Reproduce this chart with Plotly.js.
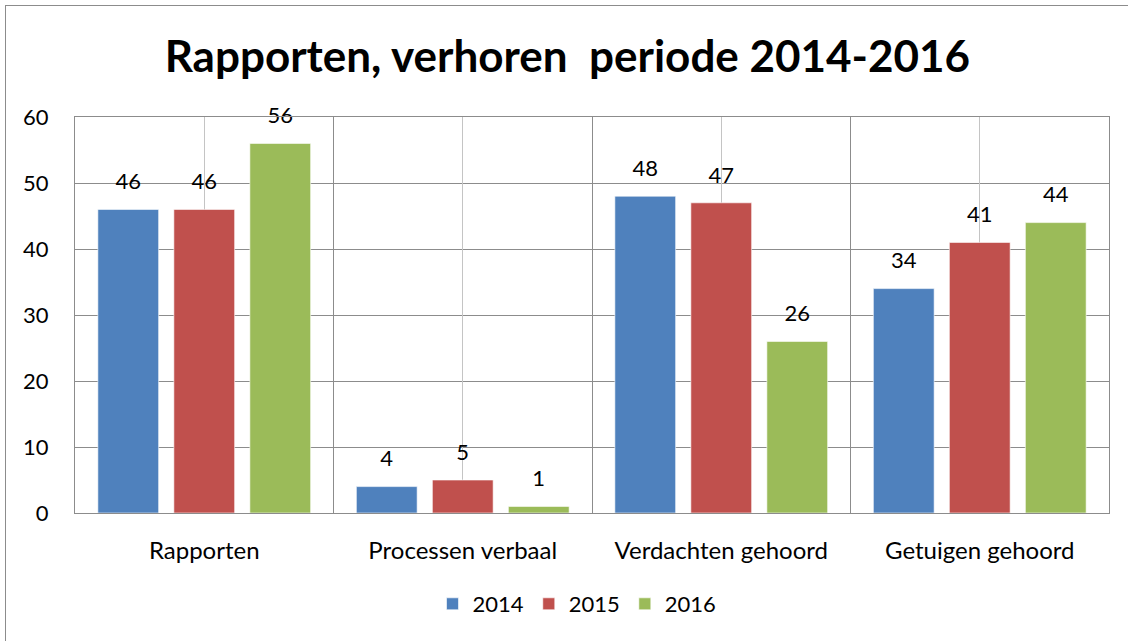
<!DOCTYPE html>
<html>
<head>
<meta charset="utf-8">
<script src="https://cdn.plot.ly/plotly-3.0.1.min.js"></script>
<style>
  html, body { margin: 0; padding: 0; background: #fff; }
  #wrap { position: relative; width: 1128px; height: 641px; }
  #chart { position: absolute; left: 0; top: 0; width: 1128px; height: 641px; }
  #frame { position: absolute; left: 5px; top: 5px; width: 1140px; height: 660px;
           border: 1px solid #8c8c8c; pointer-events: none; box-sizing: border-box; }
</style>
</head>
<body>
<div id="wrap">
  <div id="chart"></div>
  <div id="frame"></div>
</div>
<script>
const categories = ["Rapporten", "Processen verbaal", "Verdachten gehoord", "Getuigen gehoord"];
const seriesNames = ["2014", "2015", "2016"];
const values2014 = [46, 4, 48, 34];
const values2015 = [46, 5, 47, 41];
const values2016 = [56, 1, 26, 44];
const yTicks = [0, 10, 20, 30, 40, 50, 60];

const colors = ["#4F81BD", "#C0504D", "#9BBB59"];
const allValues = [values2014, values2015, values2016];
const FONT = "Lato, 'Open Sans', sans-serif";
const GAP = 0.118;

const traces = [];
allValues.forEach((vals, i) => {
  traces.push({
    type: "bar", x: categories, y: vals, name: seriesNames[i],
    marker: { color: colors[i], line: { color: "rgba(255,255,255,0.6)", width: 1 } },
    hoverinfo: "x+y+name"
  });
});
allValues.forEach((vals, i) => {
  traces.push({
    type: "scatter", mode: "markers+text", x: categories, y: vals,
    orientation: "v",
    text: vals.map(String), textposition: "top center",
    textfont: { family: FONT, size: 22, color: "#000" },
    marker: { size: 22, color: "rgba(0,0,0,0)" },
    showlegend: false, hoverinfo: "skip", cliponaxis: false
  });
});
// helper trace for center gridlines on secondary x-axis
traces.push({ type: "scatter", x: [0, 3], y: [0, 0], xaxis: "x2", mode: "none", showlegend: false, hoverinfo: "skip" });

const layout = {
  width: 1128, height: 641,
  paper_bgcolor: "rgba(0,0,0,0)", plot_bgcolor: "#fff",
  margin: { l: 75, r: 19, t: 117, b: 128 },
  font: { family: FONT, color: "#000" },
  title: {
    text: "<b>Rapporten, verhoren  periode 2014-2016</b>",
    font: { family: FONT, size: 44, color: "#000" },
    x: 0.503, xref: "container", xanchor: "center",
    y: 1 - 57 / 641, yref: "container", yanchor: "middle"
  },
  barmode: "group", bargap: GAP, bargroupgap: 0.2,
  scattermode: "group", scattergap: GAP,
  xaxis: {
    type: "category", tickson: "boundaries",
    showgrid: true, gridcolor: "#8c8c8c", gridwidth: 1,
    showline: true, linecolor: "#8c8c8c", mirror: true,
    ticks: "", tickfont: { family: FONT, size: 24, color: "#000" },
    ticklabelstandoff: 16, zeroline: false
  },
  xaxis2: {
    overlaying: "x", range: [-0.5, 3.5], tick0: 0, dtick: 1,
    showgrid: true, gridcolor: "#c4c4c4", gridwidth: 1,
    showticklabels: false, ticks: "", zeroline: false, showline: false
  },
  yaxis: {
    range: [0, 60], tickvals: yTicks, ticktext: yTicks.map(String),
    showgrid: true, gridcolor: "#8c8c8c", gridwidth: 1,
    showline: true, linecolor: "#8c8c8c", mirror: true,
    ticks: "", tickfont: { family: FONT, size: 22, color: "#000" },
    ticklabelstandoff: 21, zeroline: false
  },
  legend: {
    orientation: "h", xref: "container", yref: "container",
    x: 577 / 1128, xanchor: "center", y: (641 - 604) / 641, yanchor: "middle",
    font: { family: FONT, size: 22, color: "#000" },
    traceorder: "normal", itemwidth: 30
  },
  showlegend: true
};

Plotly.newPlot("chart", traces, layout, { displayModeBar: false, staticPlot: true });
</script>
</body>
</html>
